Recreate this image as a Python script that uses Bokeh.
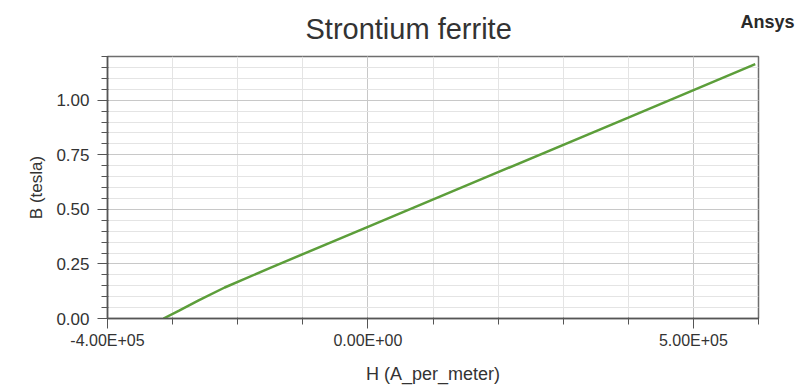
from bokeh.plotting import figure
from bokeh.models import FixedTicker, NumeralTickFormatter, Range1d, Title
from bokeh.embed import file_html
from bokeh.resources import INLINE

# B-H demagnetization curve of strontium ferrite
h_field = [-3.14e5, -2.9e5, -2.6e5, -2.2e5, -1.5e5, 0.0, 2.0e5, 4.0e5, 5.95e5]
b_field = [0.0, 0.036, 0.083, 0.142, 0.232, 0.42, 0.67, 0.92, 1.165]

x_major = [-4.0e5, 0.0, 5.0e5]
x_minor = [-4.0e5, -3.0e5, -2.0e5, -1.0e5, 0.0, 1.0e5, 2.0e5, 3.0e5, 4.0e5, 5.0e5, 6.0e5]
x_labels = ["-4.00E+05", "0.00E+00", "5.00E+05"]
y_major = [0.0, 0.25, 0.5, 0.75, 1.0]
y_minor = [round(0.05 * i, 2) for i in range(25)]

FONT = "Liberation Sans"
TXT = "#333333"

p = figure(width=801, height=389, output_backend="svg", toolbar_location=None,
           x_range=Range1d(-4.0e5, 6.0e5), y_range=Range1d(0.0, 1.2),
           min_border_left=107, min_border_right=43, min_border_top=56,
           min_border_bottom=71)
p.background_fill_color = "white"
p.border_fill_color = "white"
p.outline_line_color = "#6e6e6e"
p.outline_line_width = 1.5

# main title, left of the frame centre; the negative standoff keeps its
# panel collapsed so the text is placed freely inside the top border
p.title.text = "Strontium ferrite"
p.title.align = "left"
p.title.offset = 198
p.title.standoff = -87
p.title.vertical_align = "top"
p.title.text_font = FONT
p.title.text_font_size = "29px"
p.title.text_font_style = "normal"
p.title.text_color = TXT

# brand mark in the top-right corner
p.add_layout(Title(text="Ansys", align="left", offset=633, standoff=-89,
                   vertical_align="top", text_font=FONT,
                   text_font_size="18px", text_font_style="bold",
                   text_color="#2a2a2a"), "above")

# axes
p.xaxis.ticker = FixedTicker(ticks=x_major, minor_ticks=x_minor)
p.xaxis.major_label_overrides = {t: s for t, s in zip(x_major, x_labels)}
p.yaxis.ticker = FixedTicker(ticks=y_major, minor_ticks=y_minor)
p.yaxis.formatter = NumeralTickFormatter(format="0.00")
p.xaxis.axis_label = "H (A_per_meter)"
p.yaxis.axis_label = "B (tesla)"

for ax in (p.xaxis, p.yaxis):
    ax.axis_line_color = "#555555"
    ax.axis_line_width = 1.5
    ax.major_tick_line_color = "#555555"
    ax.minor_tick_line_color = "#555555"
    ax.major_tick_out = 10
    ax.major_tick_in = 0
    ax.minor_tick_out = 6
    ax.minor_tick_in = 1
    ax.major_label_text_font = FONT
    ax.major_label_text_color = TXT
    ax.axis_label_text_font = FONT
    ax.axis_label_text_font_style = "normal"
    ax.axis_label_text_color = TXT

p.xaxis.major_label_text_font_size = "16px"
p.yaxis.major_label_text_font_size = "17px"
p.xaxis.axis_label_text_font_size = "18px"
p.yaxis.axis_label_text_font_size = "17px"
p.xaxis.major_label_standoff = 3
p.yaxis.major_label_standoff = 8
p.xaxis.axis_label_standoff = 12
p.yaxis.axis_label_standoff = 7

# grid
p.xgrid.ticker = FixedTicker(ticks=x_major, minor_ticks=x_minor)
p.ygrid.ticker = FixedTicker(ticks=y_major, minor_ticks=y_minor)
for g in (p.xgrid, p.ygrid):
    g.grid_line_color = "#c8c8c8"
    g.grid_line_width = 1
    g.minor_grid_line_color = "#e4e4e4"
    g.minor_grid_line_width = 1

p.line(h_field, b_field, line_color="#5c9e3a", line_width=2.5)

open("out.html", "w").write(file_html(p, INLINE))
